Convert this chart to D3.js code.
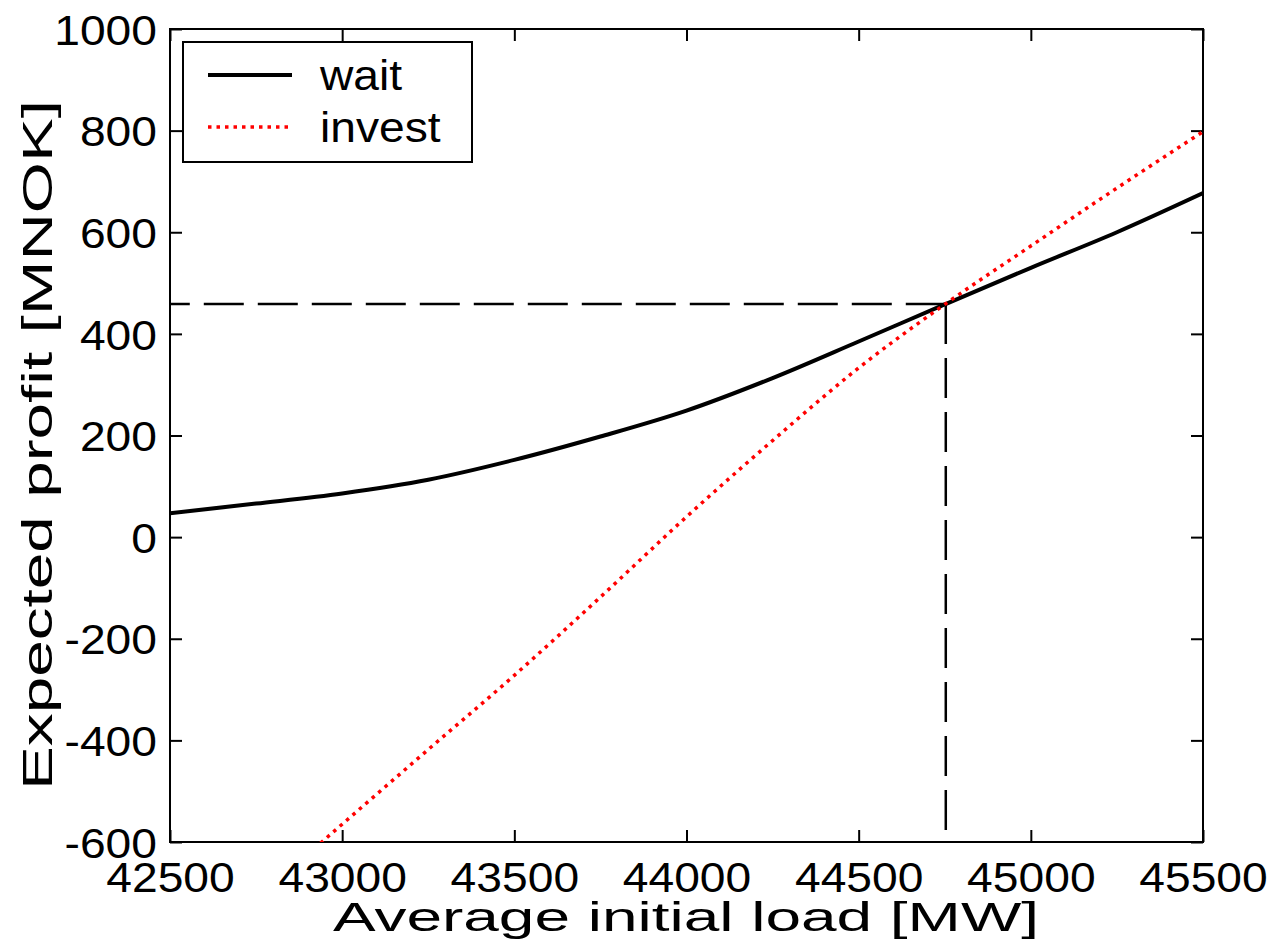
<!DOCTYPE html>
<html><head><meta charset="utf-8">
<script src="https://cdn.jsdelivr.net/npm/d3@7"></script>
<style>body{margin:0;background:#fff}text{font-family:Arial,"Liberation Sans",sans-serif;fill:#000}</style>
</head><body><svg id="c" width="1274" height="945"></svg>
<script>
// ---- data ----
const waitLoad   = [42500, 42750, 43000, 43250, 43500, 43750, 44000, 44250, 44500, 44750, 45000, 45250, 45500];
const waitProfit = [47, 66, 86, 113, 152, 198, 249, 313, 385, 458, 530, 600, 677];
const investLoad   = [42900, 43000, 43250, 43500, 43750, 44000, 44250, 44500, 44750, 45000, 45250, 45500];
const investProfit = [-624, -565, -418, -272, -118, 40, 190, 333, 458, 573, 687, 798];
const xTicks = [42500, 43000, 43500, 44000, 44500, 45000, 45500];
const yTicks = [-600, -400, -200, 0, 200, 400, 600, 800, 1000];
const breakEvenLoad = 44753;
const breakEvenProfit = 459;
const seriesNames = ["wait", "invest"];

// ---- layout ----
const L = 170, R = 1203, T = 29, B = 842;
const FS = 42, SX = 1.1;
const svg = d3.select("#c");
const x = d3.scaleLinear().domain([42500, 45500]).range([L, R]);
const y = d3.scaleLinear().domain([-600, 1000]).range([B, T]);

function widen(sel, factor) {
  sel.each(function () {
    const w = this.getComputedTextLength();
    d3.select(this).attr("textLength", w * factor).attr("lengthAdjust", "spacingAndGlyphs");
  });
}

svg.append("defs").append("clipPath").attr("id", "clip")
  .append("rect").attr("x", L).attr("y", T).attr("width", R - L).attr("height", B - T);

function styleAxis(g) {
  g.select(".domain").remove();
  g.selectAll("line").attr("stroke", "#000").attr("stroke-width", 2);
}
const fmt = d => String(d);
const ax = svg.append("g").attr("transform", `translate(0,${B})`)
  .call(d3.axisBottom(x).tickValues(xTicks).tickSize(-12).tickPadding(20).tickFormat(fmt));
styleAxis(ax);
ax.selectAll("text").attr("font-size", FS).call(widen, SX);
const axT = svg.append("g").attr("transform", `translate(0,${T})`)
  .call(d3.axisTop(x).tickValues(xTicks).tickSize(-12).tickFormat(""));
styleAxis(axT);
const ay = svg.append("g").attr("transform", `translate(${L},0)`)
  .call(d3.axisLeft(y).tickValues(yTicks).tickSize(-12).tickPadding(13).tickFormat(fmt));
styleAxis(ay);
ay.selectAll("text").attr("font-size", FS).attr("dy", "0.36em").call(widen, SX);
const ayR = svg.append("g").attr("transform", `translate(${R},0)`)
  .call(d3.axisRight(y).tickValues(yTicks).tickSize(-12).tickFormat(""));
styleAxis(ayR);

svg.append("rect").attr("x", L).attr("y", T).attr("width", R - L).attr("height", B - T)
  .attr("fill", "none").attr("stroke", "#000").attr("stroke-width", 2);

const plot = svg.append("g").attr("clip-path", "url(#clip)");

plot.append("line").attr("x1", x(breakEvenLoad)).attr("y1", y(breakEvenProfit))
  .attr("x2", x(42500)).attr("y2", y(breakEvenProfit))
  .attr("stroke", "#000").attr("stroke-width", 2.5).attr("stroke-dasharray", "40,14");
plot.append("line").attr("x1", x(breakEvenLoad)).attr("y1", y(breakEvenProfit))
  .attr("x2", x(breakEvenLoad)).attr("y2", y(-600))
  .attr("stroke", "#000").attr("stroke-width", 2.5).attr("stroke-dasharray", "40,14");

const line = d3.line().x(d => x(d[0])).y(d => y(d[1])).curve(d3.curveMonotoneX);
plot.append("path").datum(waitLoad.map((v, i) => [v, waitProfit[i]]))
  .attr("d", line).attr("fill", "none").attr("stroke", "#000").attr("stroke-width", 4);
plot.append("path").datum(investLoad.map((v, i) => [v, investProfit[i]]))
  .attr("d", line).attr("fill", "none").attr("stroke", "#ff0000").attr("stroke-width", 3.5)
  .attr("stroke-dasharray", "3.5,5");

// legend
const lg = svg.append("g");
lg.append("rect").attr("x", 183).attr("y", 42).attr("width", 289).attr("height", 120)
  .attr("fill", "#fff").attr("stroke", "#000").attr("stroke-width", 2);
const legendStyles = [{stroke: "#000", w: 4, dash: null}, {stroke: "#ff0000", w: 3.5, dash: "3.5,5"}];
seriesNames.forEach((n, i) => {
  const yy = 75 + i * 52;
  lg.append("line").attr("x1", 208).attr("x2", 292).attr("y1", yy).attr("y2", yy)
    .attr("stroke", legendStyles[i].stroke).attr("stroke-width", legendStyles[i].w)
    .attr("stroke-dasharray", legendStyles[i].dash);
  lg.append("text").attr("x", 320).attr("y", yy + 15)
    .attr("font-size", FS).text(n).call(widen, SX);
});

// axis titles
svg.append("text").attr("x", 686).attr("y", 931)
  .attr("text-anchor", "middle").attr("font-size", 40)
  .attr("textLength", 706).attr("lengthAdjust", "spacingAndGlyphs")
  .text("Average initial load [MW]");
svg.append("text").attr("transform", "translate(52,445) rotate(-90)")
  .attr("text-anchor", "middle").attr("font-size", 42)
  .attr("textLength", 690).attr("lengthAdjust", "spacingAndGlyphs")
  .text("Expected profit [MNOK]");
</script></body></html>
